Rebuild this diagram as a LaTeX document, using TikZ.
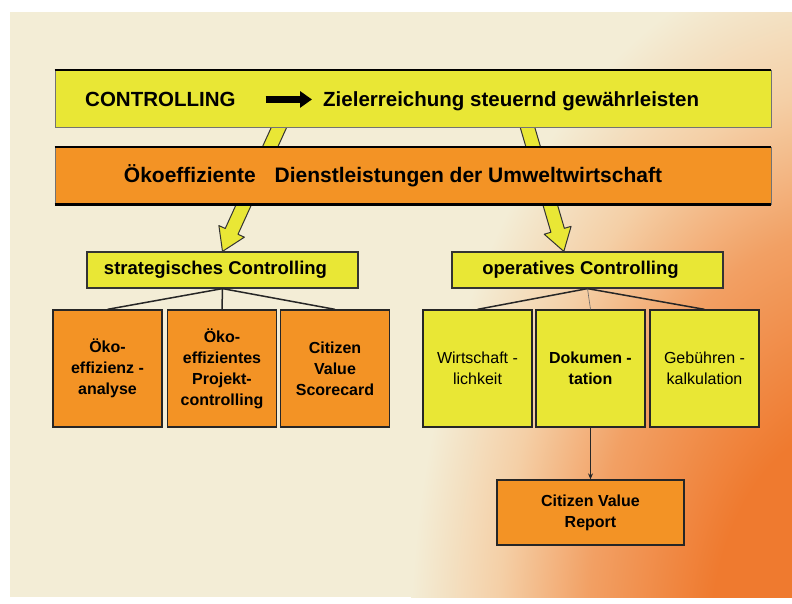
\documentclass[tikz,border=0pt]{standalone}
\usepackage{fontspec}
\setmainfont{Liberation Sans}
\usepackage{tikz}
\usetikzlibrary{calc,arrows.meta,backgrounds}

\definecolor{slidebg}{HTML}{F3EDD6}
\definecolor{glowdeep}{HTML}{EF7A2F}
\definecolor{glowmid}{HTML}{F2A064}
\definecolor{glowpale}{HTML}{F4CFA6}
\definecolor{boxyellow}{HTML}{E9E735}
\definecolor{boxorange}{HTML}{F39325}

\pgfdeclareradialshading{glow}{\pgfpoint{0bp}{0bp}}{color(0bp)=(glowdeep); color(8bp)=(glowdeep); color(15bp)=(glowmid); color(20bp)=(glowpale); color(25bp)=(slidebg); color(50bp)=(slidebg)}

\begin{document}
\begin{tikzpicture}[x=1pt, y=-1pt,
  bar/.style={rectangle, draw=black!55, line width=0.8pt, minimum width=716pt, minimum height=57pt},
  bartext/.style={inner sep=0pt, font=\fontsize{20.5}{24}\selectfont\bfseries},
  head/.style={rectangle, draw=black!80, fill=boxyellow, line width=1.2pt, minimum width=271pt, minimum height=36pt, font=\fontsize{18.5}{22}\selectfont\bfseries},
  leaf/.style={rectangle, draw=black!85, line width=1.3pt, minimum width=109pt, minimum height=117pt, align=center, font=\fontsize{16}{21}\selectfont},
  leafbold/.style={leaf, font=\fontsize{16}{21}\selectfont\bfseries},
  tree/.style={line width=1.5pt, black!85},
  bigarrow/.style={fill=boxyellow, draw=black!80, line width=1pt, line join=round}
]
\useasboundingbox (0,0) rectangle (792,603);

\node[bar, fill=boxyellow] (ctlbar) at (413,99) {};
\node[bartext, anchor=base west] (ctl) at (85,106.5) {CONTROLLING};
\node[bartext, anchor=base west] (ziel) at (323,106.5) {Zielerreichung steuernd gewährleisten};
\draw[-{Triangle[length=12pt,width=16pt]}, line width=6.5pt, shorten <=30pt, shorten >=11pt] (ctl.east) -- (ctl.east -| ziel.west);

\node[bar, fill=boxorange, font=\fontsize{21}{25}\selectfont\bfseries] (dienst) at (413,175.5) {Ökoeffiziente\hspace{0.9em}Dienstleistungen der Umweltwirtschaft\hspace*{40pt}};

\draw[line width=2pt] (ctlbar.north west) -- (ctlbar.north east);
\draw[line width=2pt] (dienst.north west) -- (dienst.north east);
\draw[line width=2.5pt] (dienst.south west) -- (dienst.south east);

\node[head] (strat) at (222.5,270) {strategisches Controlling\hspace*{14pt}};
\node[head] (oper) at (587.5,270) {operatives Controlling\hspace*{14pt}};

\node[leafbold, fill=boxorange] (oeko) at (107.5,368.5) {Öko-\\effizienz -\\analyse};
\node[leafbold, fill=boxorange] (projekt) at (222,368.5) {Öko-\\effizientes\\Projekt-\\controlling};
\node[leafbold, fill=boxorange] (cvs) at (335,368.5) {Citizen\\Value\\Scorecard};

\node[leaf, fill=boxyellow] (wirt) at (477.5,368.5) {Wirtschaft -\\lichkeit};
\node[leafbold, fill=boxyellow] (doku) at (590.5,368.5) {Dokumen -\\tation};
\node[leaf, fill=boxyellow] (geb) at (704.5,368.5) {Gebühren -\\kalkulation};

\node[leafbold, fill=boxorange, minimum width=187pt, minimum height=65pt] (report) at (590.5,512.5) {Citizen Value\\Report};

\draw[tree] (strat.south) -- (oeko.north);
\draw[tree] (strat.south) -- (projekt.north);
\draw[tree] (strat.south) -- (cvs.north);
\draw[tree] (oper.south) -- (wirt.north);
\draw[black!60, line width=0.6pt] (oper.south) -- (doku.north);
\draw[tree] (oper.south) -- (geb.north);
\draw[tree, -{Stealth[length=6pt,width=5pt]}] (doku.south) -- (report.north);

\begin{scope}[on background layer]
\fill[white] (0,0) rectangle (792,603);
\fill[slidebg] (10,12) rectangle (792,597);
\begin{scope}
\clip (10,12) rectangle (792,597);
\shade[shading=glow] (850,650) ellipse (440 and 700);
\end{scope}
\coordinate (ctlA) at (286,112);
\coordinate (ctlB) at (523,112);
\coordinate (opTip) at ($(oper.north west)!0.413!(oper.north east)$);
\coordinate (hbA) at ($(strat.north)!22pt!(ctlA)$);
\coordinate (hbB) at ($(opTip)!22pt!(ctlB)$);
\filldraw[bigarrow] ($(ctlA)!7pt!90:(strat.north)$) -- ($(hbA)!7pt!90:(strat.north)$) -- ($(hbA)!14pt!90:(strat.north)$) -- (strat.north) -- ($(hbA)!14pt!-90:(strat.north)$) -- ($(hbA)!7pt!-90:(strat.north)$) -- ($(ctlA)!7pt!-90:(strat.north)$) -- cycle;
\filldraw[bigarrow] ($(ctlB)!7pt!90:(opTip)$) -- ($(hbB)!7pt!90:(opTip)$) -- ($(hbB)!14pt!90:(opTip)$) -- (opTip) -- ($(hbB)!14pt!-90:(opTip)$) -- ($(hbB)!7pt!-90:(opTip)$) -- ($(ctlB)!7pt!-90:(opTip)$) -- cycle;
\end{scope}

\end{tikzpicture}
\end{document}
